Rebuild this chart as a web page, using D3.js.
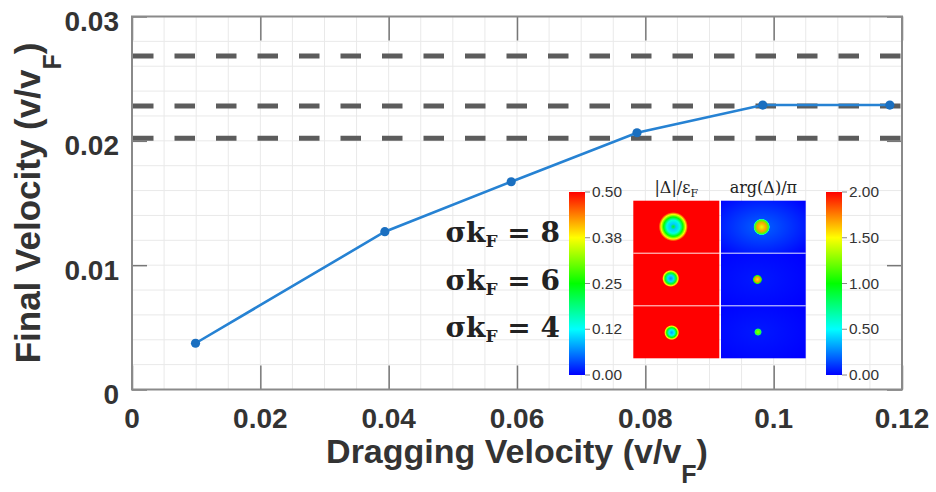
<!DOCTYPE html>
<html><head><meta charset="utf-8">
<script src="https://cdn.jsdelivr.net/npm/d3@7"></script>
<style>body{margin:0;background:#fff} svg{display:block}</style>
</head><body>
<svg id="c" width="936" height="492"></svg>
<script>
// ---------------- data ----------------
const dragVelocity  = [0.0099, 0.0394, 0.0591, 0.0787, 0.0983, 0.1181];
const finalVelocity = [0.00372, 0.01269, 0.01671, 0.02065, 0.02288, 0.02288];
const thresholdLevels = [0.02683, 0.0228, 0.0202];
const xTickValues = [0, 0.02, 0.04, 0.06, 0.08, 0.1, 0.12];
const xTickLabels = ["0", "0.02", "0.04", "0.06", "0.08", "0.1", "0.12"];
const yTickValues = [0, 0.01, 0.02, 0.03];
const yTickLabels = ["0", "0.01", "0.02", "0.03"];
const sigmaKF = [8, 6, 4];
const ampCbTicks  = [0, 0.125, 0.25, 0.375, 0.5];
const ampCbLabels = ["0.00", "0.12", "0.25", "0.38", "0.50"];
const phaseCbTicks  = [0, 0.5, 1, 1.5, 2];
const phaseCbLabels = ["0.00", "0.50", "1.00", "1.50", "2.00"];
// vortex in |Δ| panels (panel-relative units)
const vortexCenterX = [0.465, 0.435, 0.446];
const vortexCenterY = [0.495, 0.48, 0.51];
const vortexSize    = [0.17, 0.1, 0.088];
// radial |Δ|/εF profile: [relative radius, value]
const ampProfiles = [
  [[0, 0.24], [0.2, 0.1], [0.45, 0.14], [0.66, 0.25], [0.84, 0.37], [1, 0.5]],
  [[0, 0.07], [0.35, 0.11], [0.65, 0.24], [0.85, 0.38], [1, 0.5]],
  [[0, 0.08], [0.35, 0.12], [0.65, 0.25], [0.85, 0.38], [1, 0.5]]
];
// phase blob in arg(Δ) panels
const phaseCenterX = [0.48, 0.43, 0.437];
const phaseCenterY = [0.5, 0.5, 0.5];
const phaseSize    = [0.1, 0.06, 0.048];
const phaseProfiles = [
  [[0, 1.45], [0.5, 1.68], [0.8, 1.15], [0.92, 0.6], [1, 0.12]],
  [[0, 1.55], [0.5, 1.7], [0.8, 1.05], [1, 0.05]],
  [[0, 1.3], [0.5, 1.15], [0.8, 0.75], [1, 0.05]]
];
const phaseBackground = [0.12, 0.03, 0.03];

// ---------------- layout ----------------
const svg = d3.select("#c");
const L = 132, R = 902, T = 16.5, B = 389.5;
const x = d3.scaleLinear([0, 0.12], [L, R]);
const y = d3.scaleLinear([0, 0.03], [B, T]);
const sans = "'Liberation Sans', Arial, Helvetica, sans-serif";
const serif = "'DejaVu Serif', serif";
const defs = svg.append("defs");

// grid (minor)
const grid = svg.append("g");
grid.selectAll("line.v").data(x.ticks(24)).join("line").attr("class", "v")
  .attr("x1", d => x(d)).attr("x2", d => x(d)).attr("y1", T).attr("y2", B)
  .attr("stroke", "#e9e9e9").attr("stroke-width", 1);
grid.selectAll("line.h").data(y.ticks(15)).join("line").attr("class", "h")
  .attr("x1", L).attr("x2", R).attr("y1", d => y(d)).attr("y2", d => y(d))
  .attr("stroke", "#e9e9e9").attr("stroke-width", 1);

// threshold dashed lines
svg.append("g").selectAll("line").data(thresholdLevels).join("line")
  .attr("x1", L + 1).attr("x2", R).attr("y1", d => y(d)).attr("y2", d => y(d))
  .attr("stroke", "#5c5c5c").attr("stroke-width", 5)
  .attr("stroke-dasharray", "20.5,21");

// ticks
function styleTicks(s) { s.select(".domain").remove(); s.selectAll("line").attr("stroke", "#777").attr("stroke-width", 1.5); s.selectAll("text").remove(); }
svg.append("g").attr("transform", `translate(0,${B})`).call(d3.axisBottom(x).tickValues(xTickValues).tickSize(-24)).call(styleTicks);
svg.append("g").attr("transform", `translate(0,${T})`).call(d3.axisTop(x).tickValues(xTickValues).tickSize(-24)).call(styleTicks);
svg.append("g").attr("transform", `translate(${L},0)`).call(d3.axisLeft(y).tickValues(yTickValues).tickSize(-15)).call(styleTicks);
svg.append("g").attr("transform", `translate(${R},0)`).call(d3.axisRight(y).tickValues(yTickValues).tickSize(-15)).call(styleTicks);

// frame
svg.append("rect").attr("x", L).attr("y", T).attr("width", R - L).attr("height", B - T)
  .attr("fill", "none").attr("stroke", "#8a8a8a").attr("stroke-width", 2);

// tick labels
svg.append("g").selectAll("text").data(xTickValues).join("text")
  .attr("x", d => x(d)).attr("y", 428).attr("text-anchor", "middle")
  .attr("font-family", sans).attr("font-weight", "bold").attr("font-size", 28).attr("fill", "#333")
  .text((d, i) => xTickLabels[i]);
svg.append("g").selectAll("text").data(yTickValues).join("text")
  .attr("x", 119).attr("y", d => y(d) + 14.5).attr("text-anchor", "end")
  .attr("font-family", sans).attr("font-weight", "bold").attr("font-size", 28).attr("fill", "#333")
  .text((d, i) => yTickLabels[i]);

// axis titles
const xt = svg.append("text").attr("x", (L + R) / 2).attr("y", 463).attr("text-anchor", "middle")
  .attr("font-family", sans).attr("font-weight", "bold").attr("font-size", 34).attr("fill", "#333");
xt.append("tspan").text("Dragging Velocity (v/v");
xt.append("tspan").attr("font-size", 25).attr("dy", 20).text("F");
xt.append("tspan").attr("dy", -20).text(")");
const yt = svg.append("text").attr("transform", `translate(40,${(T + B) / 2}) rotate(-90)`).attr("text-anchor", "middle")
  .attr("font-family", sans).attr("font-weight", "bold").attr("font-size", 35).attr("fill", "#333");
yt.append("tspan").text("Final Velocity (v/v");
yt.append("tspan").attr("font-size", 25).attr("dy", 21).text("F");
yt.append("tspan").attr("dy", -21).text(")");

// data line
const pts = dragVelocity.map((d, i) => [d, finalVelocity[i]]);
svg.append("path").datum(pts)
  .attr("d", d3.line().x(d => x(d[0])).y(d => y(d[1])))
  .attr("fill", "none").attr("stroke", "#2682d3").attr("stroke-width", 2.6);
svg.append("g").selectAll("circle").data(pts).join("circle")
  .attr("cx", d => x(d[0])).attr("cy", d => y(d[1])).attr("r", 4.6).attr("fill", "#1a6fc0");

// ---------------- inset ----------------
const jet = d3.scaleLinear().domain([0, 0.25, 0.5, 0.75, 1])
  .range(["#0000ff", "#00ffff", "#00ff00", "#ffff00", "#ff0000"]).clamp(true);
const ampColor = v => jet(v / 0.5);
const phaseColor = v => jet(v / 2);

// colorbars
function colorbar(id, x0, domain, ticks, labels, colorFn) {
  const cy = d3.scaleLinear(domain, [375, 192]);
  const grad = defs.append("linearGradient").attr("id", id).attr("x1", 0).attr("x2", 0).attr("y1", 1).attr("y2", 0);
  d3.range(0, 1.0001, 0.125).forEach(t => grad.append("stop").attr("offset", t).attr("stop-color", colorFn(domain[0] + t * (domain[1] - domain[0]))));
  svg.append("rect").attr("x", x0).attr("y", cy(domain[1])).attr("width", 16).attr("height", cy(domain[0]) - cy(domain[1])).attr("fill", `url(#${id})`);
  const g = svg.append("g");
  g.selectAll("line").data(ticks).join("line").attr("x1", x0 + 16).attr("x2", x0 + 21)
    .attr("y1", d => cy(d)).attr("y2", d => cy(d)).attr("stroke", "#888").attr("stroke-width", 1);
  g.selectAll("text").data(ticks).join("text").attr("x", x0 + 23).attr("y", d => cy(d) + 5)
    .attr("font-family", sans).attr("font-size", 14.5).attr("fill", "#333")
    .attr("textLength", 30).attr("lengthAdjust", "spacingAndGlyphs")
    .text((d, i) => labels[i]);
}
colorbar("cbA", 569, [0, 0.5], ampCbTicks, ampCbLabels, ampColor);
colorbar("cbP", 826, [0, 2], phaseCbTicks, phaseCbLabels, phaseColor);

// heatmap panels
const rowBand = d3.scaleBand().domain(sigmaKF).range([200.7, 358.3]);
const ampX = d3.scaleLinear([0, 1], [633.3, 719.3]);
const phX = d3.scaleLinear([0, 1], [721, 805.7]);
const relY = (k, t) => rowBand(k) + t * rowBand.bandwidth();

sigmaKF.forEach((k, i) => {
  // amplitude panel
  svg.append("rect").attr("x", ampX(0)).attr("y", rowBand(k)).attr("width", ampX(1) - ampX(0)).attr("height", rowBand.bandwidth()).attr("fill", ampColor(0.5));
  const ga = defs.append("radialGradient").attr("id", "ga" + i);
  ampProfiles[i].forEach(p => ga.append("stop").attr("offset", p[0]).attr("stop-color", ampColor(p[1])));
  svg.append("circle").attr("cx", ampX(vortexCenterX[i])).attr("cy", relY(k, vortexCenterY[i]))
    .attr("r", vortexSize[i] * (ampX(1) - ampX(0))).attr("fill", `url(#ga${i})`);
  // phase panel
  const gb = defs.append("radialGradient").attr("id", "gb" + i).attr("cx", phaseCenterX[i]).attr("cy", phaseCenterY[i]).attr("r", 0.7);
  gb.append("stop").attr("offset", 0).attr("stop-color", phaseColor(phaseBackground[i] * 1.6));
  gb.append("stop").attr("offset", 1).attr("stop-color", phaseColor(0.0));
  svg.append("rect").attr("x", phX(0)).attr("y", rowBand(k)).attr("width", phX(1) - phX(0)).attr("height", rowBand.bandwidth()).attr("fill", `url(#gb${i})`);
  const gp = defs.append("radialGradient").attr("id", "gp" + i);
  phaseProfiles[i].forEach(p => gp.append("stop").attr("offset", p[0]).attr("stop-color", phaseColor(p[1])).attr("stop-opacity", p[0] === 1 ? 0 : 1));
  svg.append("circle").attr("cx", phX(phaseCenterX[i])).attr("cy", relY(k, phaseCenterY[i]))
    .attr("r", phaseSize[i] * (phX(1) - phX(0))).attr("fill", `url(#gp${i})`);
});
// row separators
svg.append("g").selectAll("line").data(sigmaKF.slice(1)).join("line")
  .attr("x1", ampX(0)).attr("x2", phX(1)).attr("y1", d => rowBand(d)).attr("y2", d => rowBand(d))
  .attr("stroke", "#fff").attr("stroke-opacity", 0.55).attr("stroke-width", 1.5);

// panel titles
const t1 = svg.append("text").attr("x", (ampX(0) + ampX(1)) / 2).attr("y", 193).attr("text-anchor", "middle")
  .attr("font-family", serif).attr("font-size", 16).attr("fill", "#222");
t1.append("tspan").text("|Δ|/ε");
t1.append("tspan").attr("font-size", 11).attr("dy", 4).text("F");
svg.append("text").attr("x", (phX(0) + phX(1)) / 2).attr("y", 193).attr("text-anchor", "middle")
  .attr("font-family", serif).attr("font-size", 16).attr("fill", "#222").text("arg(Δ)/π");

// σkF labels
const labelY = d3.scalePoint().domain(sigmaKF).range([242, 337]);
sigmaKF.forEach(k => {
  const t = svg.append("text").attr("x", 560).attr("y", labelY(k)).attr("text-anchor", "end")
    .attr("font-family", serif).attr("font-weight", "bold").attr("font-size", 28).attr("fill", "#222");
  t.append("tspan").text("σk");
  t.append("tspan").attr("font-size", 17).attr("dy", 5).text("F");
  t.append("tspan").attr("dy", -5).text(" = " + k);
});
</script>
</body></html>
